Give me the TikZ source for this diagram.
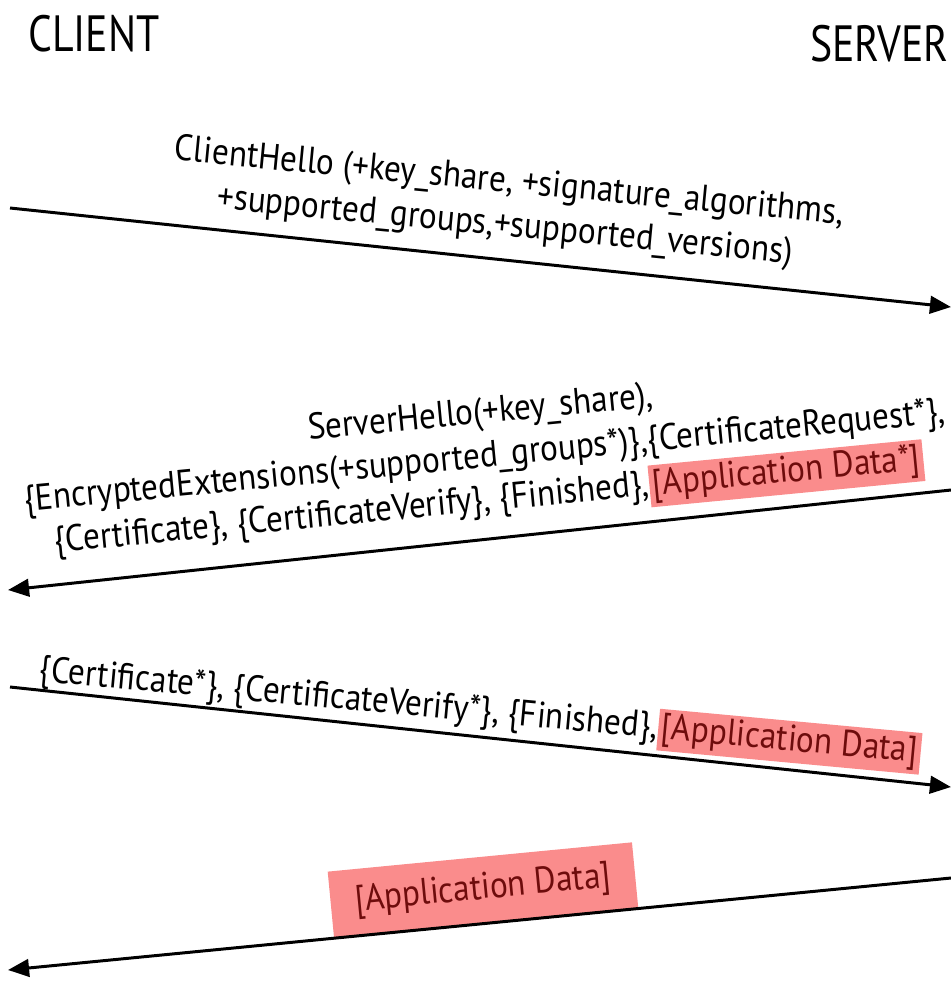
\documentclass[tikz,border=0pt]{standalone}
\usepackage{fontspec}
\setmainfont{PT Sans}[FakeStretch=0.9]
\newfontfamily\partyfont{PT Sans}[FakeStretch=0.82]
\usetikzlibrary{arrows.meta}

\definecolor{hlfill}{RGB}{250,140,140}
\definecolor{hltext}{RGB}{110,12,12}

% highlighted piece of a message label
\newcommand{\hlmark}[1]{{\fboxsep=2pt\colorbox{hlfill}{\color{hltext}#1}}}

\tikzset{
  party/.style={font=\partyfont\fontsize{29}{32}\selectfont, inner sep=0pt},
  msg/.style={font=\fontsize{21}{25}\selectfont, align=center, inner sep=0pt},
  msgline/.style={line width=1.7pt, -{Triangle[length=12pt, width=10pt]}},
}

\begin{document}
\begin{tikzpicture}[x=0.02cm, y=-0.02cm]
  \useasboundingbox (0,0) rectangle (951,985);

  % parties
  \node[party, anchor=west] (client) at (28,34) {CLIENT};
  \node[party, anchor=east] (server) at (949,44) {SERVER};

  % end points of the four messages
  \coordinate (c1) at (10,208);  \coordinate (s1) at (951,307);
  \coordinate (s2) at (951,490); \coordinate (c2) at (8,590);
  \coordinate (c3) at (10,687);  \coordinate (s3) at (951,787);
  \coordinate (s4) at (951,878); \coordinate (c4) at (8,970);

  % message labels
  \node[msg, rotate=-5.5] (m1) at (507,205)
    {ClientHello (+key\_share, +signature\_algorithms,\\
     +supported\_groups,+supported\_versions)};

  \node[msg, rotate=5.5] (m2) at (485,460)
    {ServerHello(+key\_share),\\
     \{EncryptedExtensions(+supported\_groups*)\},\{CertificateRequest*\},\\
     \{Certificate\}, \{CertificateVerify\}, \{Finished\},\hlmark{[Application Data*]}};

  \node[msg, rotate=-5.3] (m3) at (480,713)
    {\{Certificate*\}, \{CertificateVerify*\}, \{Finished\},\hlmark{[Application Data]}};

  \node[msg, rotate=5.5, fill=hlfill, text=hltext, inner xsep=14pt, inner ysep=9pt]
    (m4) at (483,890) {[Application Data]};

  % messages
  \draw[msgline] (c1) -- (s1);
  \draw[msgline] (s2) -- (c2);
  \draw[msgline] (c3) -- (s3);
  \draw[msgline] (s4) -- (c4);
\end{tikzpicture}
\end{document}
